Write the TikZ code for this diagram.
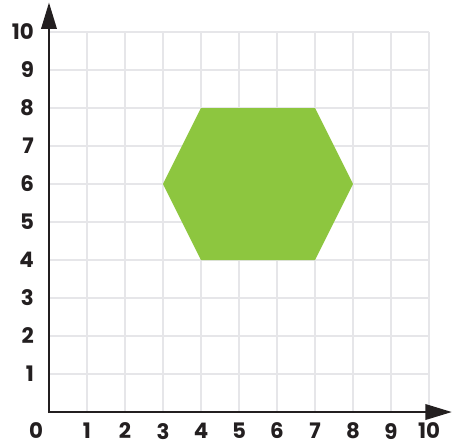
\documentclass[tikz,border=0pt]{standalone}
\usepackage{fontspec}
\setmainfont{Poppins}
\usepackage{xcolor}
\usetikzlibrary{arrows.meta}
\definecolor{gridgray}{HTML}{E6E6E9}
\definecolor{hexgreen}{HTML}{8DC63F}
\definecolor{axisblack}{HTML}{231F20}
\tikzset{
	thick,
	gridline/.style = {draw=gridgray, line width=1.9pt},
	axisline/.style = {draw=axisblack, line width=2.2pt, -{Triangle[length=0.7cm,width=0.4cm]}},
	ticklabel/.style = {font=\fontsize{16}{19}\selectfont\bfseries, text=axisblack, inner sep=0pt, text depth=0pt}
}

\begin{document}
\begin{tikzpicture}
	\useasboundingbox (-1.289,-0.921) rectangle (10.605,10.842);

	\foreach \i in {1,...,10} {
		\draw[gridline] (\i,0) -- (\i,10);
		\draw[gridline] (0,\i) -- (10,\i);
	}

	\fill[hexgreen] (4,8) -- (7,8) -- (8,6) -- (7,4) -- (4,4) -- (3,6) -- cycle;

	\draw[axisline] (-0.03,0) -- (10.605,0);
	\draw[axisline] (0,-0.03) -- (0,10.78);

	\foreach \i in {1,...,10} {
		\node[ticklabel] (x\i) at (\i,-0.5) {\i};
		\node[ticklabel, anchor=east] (y\i) at (-0.39,\i) {\i};
	}
	\node[ticklabel] (x0) at (-0.34,-0.5) {0};

\end{tikzpicture}
\end{document}
